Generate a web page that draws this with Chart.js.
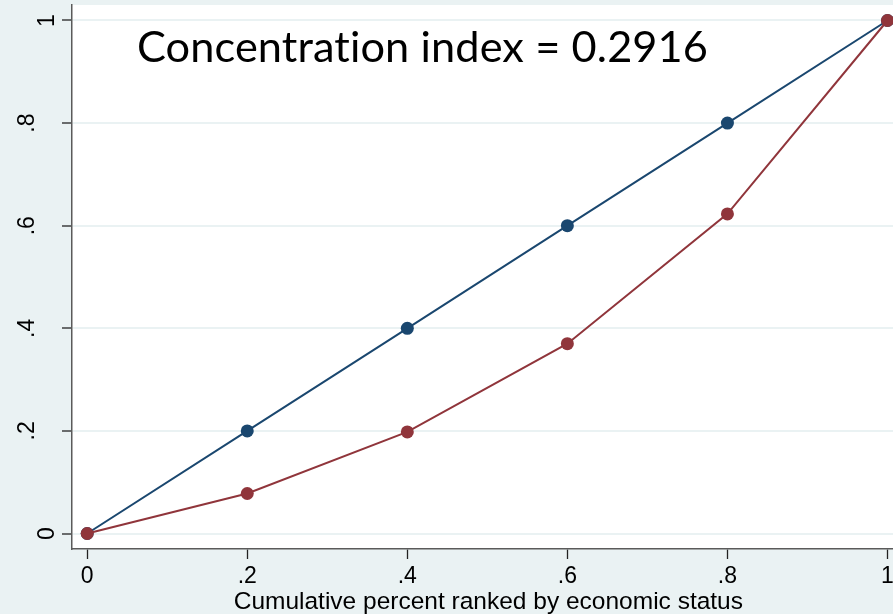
<!DOCTYPE html>
<html>
<head>
<meta charset="utf-8">
<script src="https://cdn.jsdelivr.net/npm/chart.js@4.4.1/dist/chart.umd.min.js"></script>
<style>
  html, body { margin: 0; padding: 0; background: #eaf2f3; }
  #wrap { width: 893px; height: 614px; position: relative; }
</style>
</head>
<body>
<div id="wrap"><canvas id="lorenz"></canvas></div>
<script>
// cumulative share of population, ranked by economic status
const rank_share = [0, 0.2, 0.4, 0.6, 0.8, 1];
// line of equality
const equality_line = [0, 0.2, 0.4, 0.6, 0.8, 1];
// concentration curve
const concentration_curve = [0, 0.078, 0.198, 0.370, 0.623, 1];

const tick_values = [0, 0.2, 0.4, 0.6, 0.8, 1];
const tick_labels = ["0", ".2", ".4", ".6", ".8", "1"];

const annotation_text = "Concentration index = 0.2916";
const x_title = "Cumulative percent ranked by economic status";

const navy = "#1a476f";
const maroon = "#90353b";
const bluish_gray = "#eaf2f3";

function toPoints(ys) {
  return rank_share.map((x, i) => ({ x: x, y: ys[i] }));
}

function labelFor(v) {
  const i = tick_values.findIndex(t => Math.abs(t - v) < 1e-9);
  return i >= 0 ? tick_labels[i] : "";
}

// white plot region on the bluish gray graph region
const plotBackground = {
  id: "plotBackground",
  beforeDraw(chart) {
    const { ctx, chartArea } = chart;
    ctx.save();
    ctx.fillStyle = "#ffffff";
    ctx.fillRect(chartArea.left, chartArea.top, chartArea.right - chartArea.left, chartArea.bottom - chartArea.top);
    ctx.restore();
  }
};

// rotated y labels (stata style), axis title and the text box
const extraText = {
  id: "extraText",
  afterDraw(chart) {
    const { ctx } = chart;
    const y_scale = chart.scales.y;
    const x_scale = chart.scales.x;

    ctx.save();
    ctx.fillStyle = "#000";
    ctx.font = "23px 'Liberation Sans', Arial, sans-serif";
    ctx.textAlign = "center";
    ctx.textBaseline = "alphabetic";
    tick_values.forEach((v, i) => {
      const label = tick_labels[i];
      const py = y_scale.getPixelForValue(v);
      const bx = label.length > 1 ? 33.5 : 53.5;
      ctx.save();
      ctx.translate(bx, py);
      ctx.rotate(-Math.PI / 2);
      ctx.fillText(label, 0, 0);
      ctx.restore();
    });

    // x axis title, centred on the middle of the data range
    ctx.font = "24.5px 'Liberation Sans', Arial, sans-serif";
    ctx.fillText(x_title, x_scale.getPixelForValue(0.5) + 1, 609);
    ctx.restore();

    // annotation, squeezed to the width of the original box
    ctx.save();
    ctx.fillStyle = "#000";
    ctx.font = "42px Lato, 'Open Sans', sans-serif";
    ctx.letterSpacing = "0.1px"; // no "ti" ligature
    ctx.textAlign = "left";
    ctx.textBaseline = "alphabetic";
    const w = ctx.measureText(annotation_text).width;
    const target = 571;
    ctx.translate(137, 61.5);
    ctx.scale(target / w, 1);
    ctx.fillText(annotation_text, 0, 0);
    ctx.restore();
  }
};

const config = {
  type: "scatter",
  data: {
    datasets: [
      {
        label: "Line of equality",
        data: toPoints(equality_line),
        showLine: true,
        borderColor: navy,
        backgroundColor: navy,
        borderWidth: 2,
        pointRadius: 6.5,
        pointBorderWidth: 0,
        order: 1
      },
      {
        label: "Concentration curve",
        data: toPoints(concentration_curve),
        showLine: true,
        borderColor: maroon,
        backgroundColor: maroon,
        borderWidth: 2,
        pointRadius: 6.5,
        pointBorderWidth: 0,
        order: 0
      }
    ]
  },
  options: {
    responsive: true,
    maintainAspectRatio: false,
    animation: false,
    layout: { autoPadding: false, padding: { top: 5, right: 0, left: 0, bottom: 0 } },
    plugins: {
      legend: { display: false },
      tooltip: { enabled: false }
    },
    scales: {
      x: {
        type: "linear",
        min: -0.019,
        max: 1.0069,
        afterBuildTicks: (scale) => { scale.ticks = tick_values.map(v => ({ value: v })); },
        afterFit: (scale) => {
          scale.height = 65;
          scale.paddingLeft = 0;
          scale.paddingRight = 0;
        },
        border: { display: true, color: "#5a5a5a", width: 1.5 },
        grid: {
          drawOnChartArea: false,
          drawTicks: true,
          tickLength: 10,
          tickColor: "#222",
          tickWidth: 1.3
        },
        ticks: {
          autoSkip: false,
          maxRotation: 0,
          minRotation: 0,
          padding: 4,
          color: "#000",
          font: { family: "'Liberation Sans', Arial, sans-serif", size: 23 },
          callback: (v) => labelFor(v)
        },
        title: { display: false }
      },
      y: {
        type: "linear",
        min: -0.0302,
        max: 1.0302,
        afterBuildTicks: (scale) => { scale.ticks = tick_values.map(v => ({ value: v })); },
        afterFit: (scale) => {
          scale.width = 72;
          scale.paddingTop = 0;
          scale.paddingBottom = 0;
        },
        border: { display: true, color: "#5a5a5a", width: 1.5 },
        grid: {
          color: bluish_gray,
          lineWidth: 2,
          drawTicks: true,
          tickLength: 10,
          tickColor: "#222",
          tickWidth: 1.3
        },
        ticks: { display: false }
      }
    }
  },
  plugins: [plotBackground, extraText]
};

new Chart(document.getElementById("lorenz").getContext("2d"), config);
</script>
</body>
</html>
